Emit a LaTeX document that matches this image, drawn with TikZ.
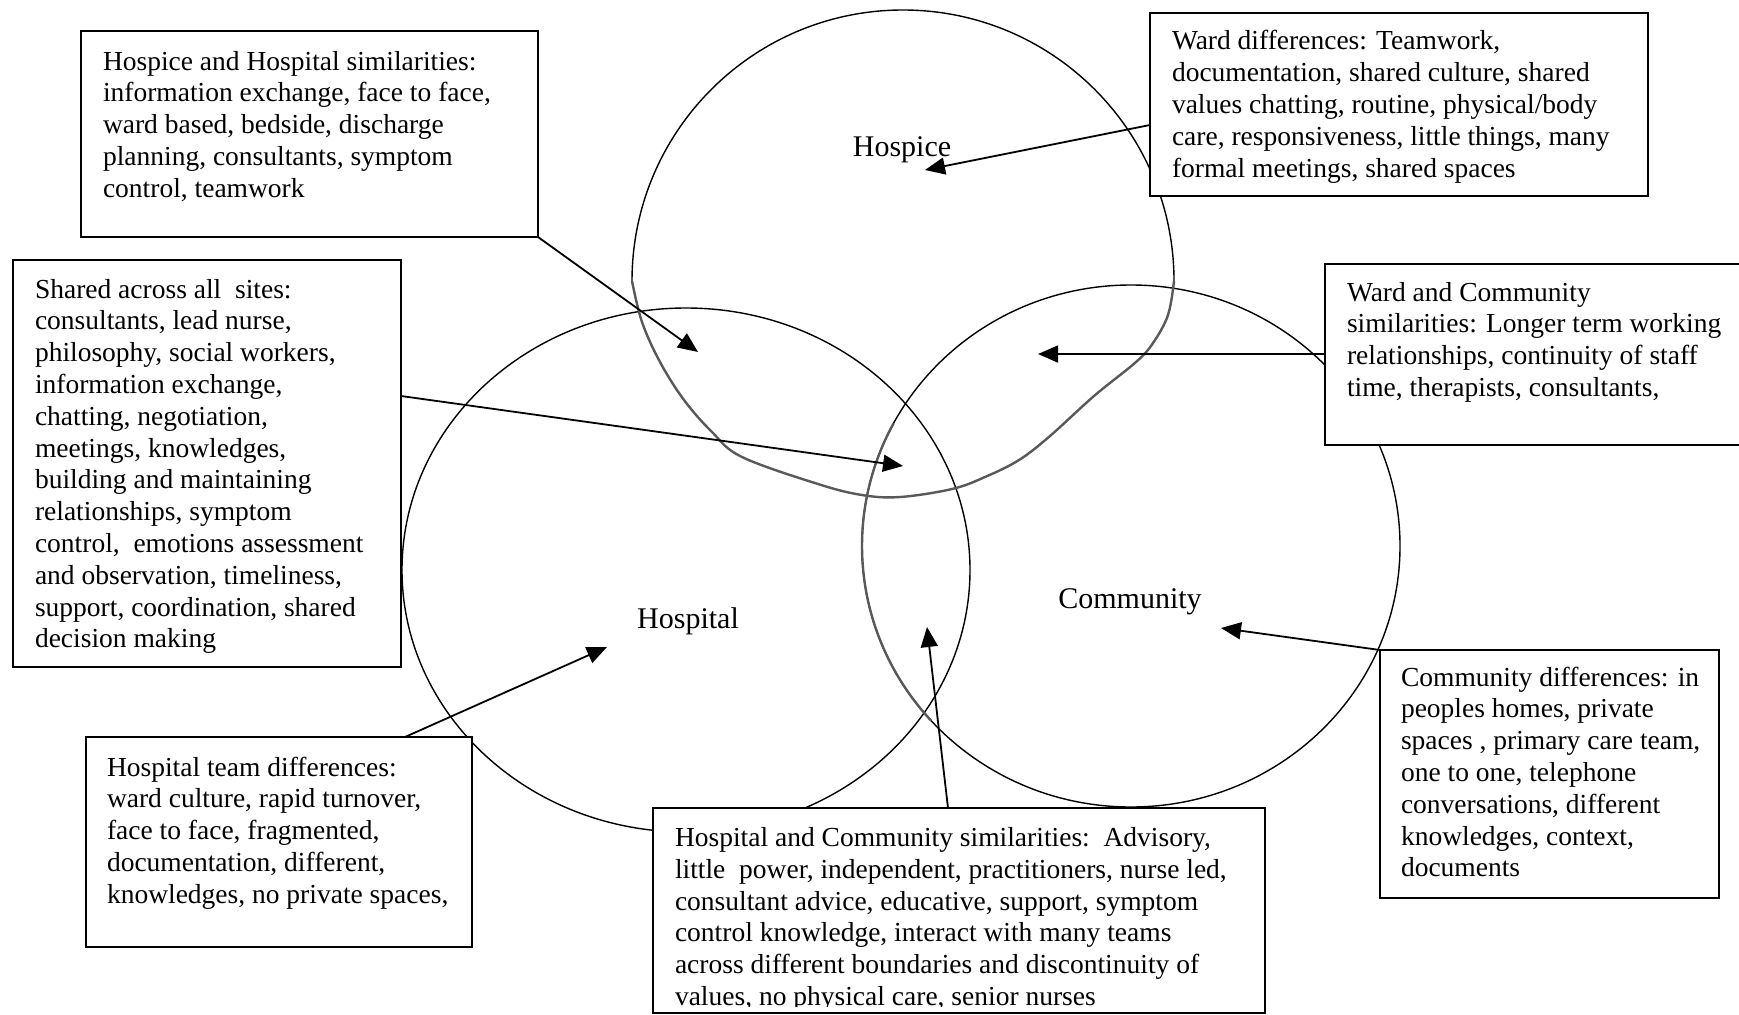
\documentclass[tikz,border=0pt]{standalone}
\usepackage{fontspec}
\setmainfont{Liberation Serif}
\usetikzlibrary{arrows.meta,calc}
\tikzset{
  boxnode/.style={draw=black, line width=1.8pt, fill=white, inner sep=0pt, outer sep=0pt, anchor=north west},
  txt/.style={anchor=north west, inner sep=0pt, outer sep=0pt, align=left, font=\fontsize{27.5}{31.8}\selectfont},
  lbl/.style={anchor=base, inner sep=0pt, font=\fontsize{30}{36}\selectfont},
  circ/.style={line width=1.4pt, draw=black},
  rough/.style={line width=2.4pt, draw=black!65},
  arr/.style={line width=1.8pt, draw=black, -{Triangle[length=20pt,width=17pt]}},
}
\begin{document}
\begin{tikzpicture}[x=1pt,y=-1pt]
\useasboundingbox (0,0) rectangle (1739,1014);
\clip (0,0) rectangle (1739,1014);
\fill[white] (0,0) rectangle (1739,1014);

% circles
\draw[circ] (686,570) ellipse [x radius=284pt, y radius=262pt];
\draw[circ] (1131,546) ellipse [x radius=269pt, y radius=261pt];
\draw[rough] (1131,546) ++(152:269pt and 261pt) arc[start angle=152, end angle=222, x radius=269pt, y radius=261pt];
\draw[circ] (1174,281) arc[start angle=0, end angle=180, radius=271pt];
\draw[rough] plot[smooth, tension=0.6] coordinates {(1174,281) (1168,315) (1153,343) (1136,362) (1094,396) (1050,436) (1019,460) (985,477) (952,489) (900,497) (862,495) (818,484) (742,457) (712,432) (684,400) (660,362) (642,322) (632,281)};

% circle labels
\node[lbl] (hospice) at (902,157) {Hospice};
\node[lbl] (hospital) at (688,628) {Hospital};
\node[lbl] (community) at (1130,608) {Community};

% boxes
\node[boxnode, minimum width=457pt, minimum height=206pt] (A) at (81,31) {};
\node[boxnode, minimum width=498pt, minimum height=183pt] (B) at (1150,13) {};
\node[boxnode, minimum width=388pt, minimum height=407pt] (C) at (13,260) {};
\node[boxnode, minimum width=435pt, minimum height=181pt] (D) at (1325,264) {};
\node[boxnode, minimum width=386pt, minimum height=210pt] (E) at (86,737) {};
\node[boxnode, minimum width=612pt, minimum height=205pt] (F) at (653,808) {};
\node[boxnode, minimum width=339pt, minimum height=248pt] (G) at (1380,650) {};

% box texts
\node[txt] (At) at (103,47.74) {\strut Hospice and Hospital similarities:\\information exchange, face to face,\\ward based, bedside, discharge\\planning, consultants, symptom\\control, teamwork};
\node[txt] (Bt) at (1172,27.74) {\strut Ward differences: Teamwork,\\documentation, shared culture, shared\\values chatting, routine, physical/body\\care, responsiveness, little things, many\\formal meetings, shared spaces};
\node[txt] (Ct) at (35,275.74) {\strut Shared across all\ \ sites:\\consultants, lead nurse,\\philosophy, social workers,\\information exchange,\\chatting, negotiation,\\meetings, knowledges,\\building and maintaining\\relationships, symptom\\control,\ \ emotions assessment\\and observation, timeliness,\\support, coordination, shared\\decision making};
\node[txt] (Dt) at (1347,278.74) {\strut Ward and Community\\similarities: Longer term working\\relationships, continuity of staff\\time, therapists, consultants,};
\node[txt] (Et) at (107,753.74) {\strut Hospital team differences:\\ward culture, rapid turnover,\\face to face, fragmented,\\documentation, different,\\knowledges, no private spaces,};
\begin{scope}
\clip (653,808) rectangle (1265,1006.5);
\node[txt] (Ft) at (675,824.24) {\strut Hospital and Community similarities:\ \ Advisory,\\little\ \ power, independent, practitioners, nurse led,\\consultant advice, educative, support, symptom\\control knowledge, interact with many teams\\across different boundaries and discontinuity of\\values, no physical care, senior nurses};
\end{scope}
\node[txt] (Gt) at (1401,663.74) {\strut Community differences: in\\peoples homes, private\\spaces , primary care team,\\one to one, telephone\\conversations, different\\knowledges, context,\\documents};

% arrow tips
\coordinate (tA) at (698,352);
\coordinate (tC) at (903,466);
\coordinate (tB) at (925,170);
\coordinate (tD) at (1038,354);
\coordinate (tG) at (1221,628);
\coordinate (tE) at (607,647);
\coordinate (tF) at (927,627);

% arrows
\draw[arr] (A.south east) -- (tA);
\draw[arr] ([yshift=-136pt]C.north east) -- (tC);
\draw[arr] ([yshift=-112pt]B.north west) -- (tB);
\draw[arr] ([yshift=-90pt]D.north west) -- (tD);
\draw[arr] (G.north west) -- (tG);
\draw[arr] ([xshift=319pt]E.north west) -- (tE);
\draw[arr] ([xshift=295pt]F.north west) -- (tF);
\end{tikzpicture}
\end{document}
